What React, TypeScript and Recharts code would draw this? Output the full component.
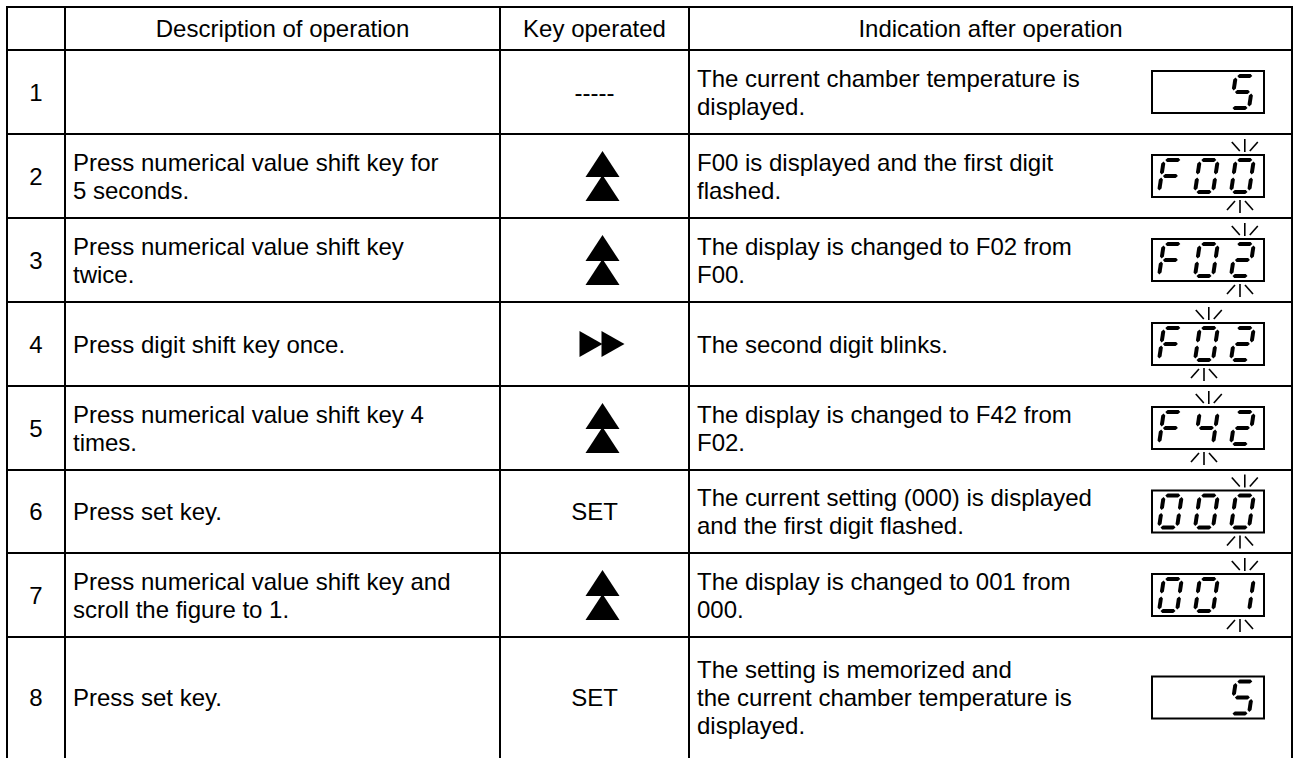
import React from 'react';
import { ComposedChart, XAxis, YAxis, Scatter, ReferenceLine } from 'recharts';

// ---------- content ----------
const headers = ['', 'Description of operation', 'Key operated', 'Indication after operation'];
const stepNumbers = ['1', '2', '3', '4', '5', '6', '7', '8'];
const descriptions: string[][] = [
  [],
  ['Press numerical value shift key for', '5 seconds.'],
  ['Press numerical value shift key', 'twice.'],
  ['Press digit shift key once.'],
  ['Press numerical value shift key 4', 'times.'],
  ['Press set key.'],
  ['Press numerical value shift key and', 'scroll the figure to 1.'],
  ['Press set key.'],
];
const keysOperated = ['-----', 'UP', 'UP', 'RIGHT', 'UP', 'SET', 'UP', 'SET'];
const indications: string[][] = [
  ['The current chamber temperature is', 'displayed.'],
  ['F00 is displayed and the first digit', 'flashed.'],
  ['The display is changed to F02 from', 'F00.'],
  ['The second digit blinks.'],
  ['The display is changed to F42 from', 'F02.'],
  ['The current setting (000) is displayed', 'and the first digit flashed.'],
  ['The display is changed to 001 from', '000.'],
  ['The setting is memorized and', 'the current chamber temperature is', 'displayed.'],
];
const displayReadings = ['  5', 'F00', 'F02', 'F02', 'F42', '000', '001', '  5'];
const blinkingDigit = [-1, 2, 2, 1, 1, 2, 2, -1];

// ---------- layout ----------
const CHART_W = 1294;
const CHART_H = 758;
const colEdges = [7, 65, 500, 689, 1292];
const rowEdges = [7, 50, 134, 218, 302, 386, 470, 553, 637, 758];
const CELL_PAD = 8;
const KEY_ICON_SHIFT = 8;
const DISPLAY_CENTER_X = 1208;
const LINE_GAP = 28;
const FONT = "'Liberation Sans', Arial, Helvetica, sans-serif";
const FONT_SIZE = 24;

const colMid = (i: number) => (colEdges[i] + colEdges[i + 1]) / 2;
const rowMid = (r: number) => (rowEdges[r] + rowEdges[r + 1]) / 2;

const headerCells = headers.map((t, i) => ({ x: colMid(i), y: rowMid(0), lines: [t], anchor: 'middle' }));
const numberCells = stepNumbers.map((t, r) => ({ x: colMid(0), y: rowMid(r + 1), lines: [t], anchor: 'middle' }));
const descCells = descriptions.map((l, r) => ({ x: colEdges[1] + CELL_PAD, y: rowMid(r + 1), lines: l, anchor: 'start' }));
const indCells = indications.map((l, r) => ({ x: colEdges[3] + CELL_PAD, y: rowMid(r + 1), lines: l, anchor: 'start' }));
const keyCells = keysOperated.map((k, r) => ({
  x: colMid(2) + (k === 'UP' || k === 'RIGHT' ? KEY_ICON_SHIFT : 0),
  y: rowMid(r + 1),
  key: k,
}));
const displayCells = displayReadings.map((d, r) => ({ x: DISPLAY_CENTER_X, y: rowMid(r + 1), reading: d, blink: blinkingDigit[r] }));

// ---------- renderers ----------
const TextShape = (p: any) => {
  const { cx, cy, payload } = p;
  const lines: string[] = payload.lines;
  const n = lines.length;
  return (
    <g>
      {lines.map((t, i) => (
        <text
          key={i}
          x={cx}
          y={cy + (i - (n - 1) / 2) * LINE_GAP}
          textAnchor={payload.anchor}
          dominantBaseline="central"
          fontFamily={FONT}
          fontSize={FONT_SIZE}
          fill="#000"
        >
          {t}
        </text>
      ))}
    </g>
  );
};

const KeyShape = (p: any) => {
  const { cx, cy, payload } = p;
  const k = payload.key;
  if (k === 'UP') {
    const w = 17;
    return (
      <g fill="#000">
        <polygon points={`${cx},${cy - 25} ${cx + w},${cy + 1} ${cx - w},${cy + 1}`} />
        <polygon points={`${cx},${cy - 1} ${cx + w},${cy + 25} ${cx - w},${cy + 25}`} />
      </g>
    );
  }
  if (k === 'RIGHT') {
    const h = 13;
    return (
      <g fill="#000">
        <polygon points={`${cx - 23},${cy - h} ${cx},${cy} ${cx - 23},${cy + h}`} />
        <polygon points={`${cx - 1},${cy - h} ${cx + 22},${cy} ${cx - 1},${cy + h}`} />
      </g>
    );
  }
  return (
    <text x={cx} y={cy} textAnchor="middle" dominantBaseline="central" fontFamily={FONT} fontSize={FONT_SIZE} fill="#000">
      {k}
    </text>
  );
};

const SEG_MAP: Record<string, string> = {
  '0': 'abcdef',
  '1': 'bc',
  '2': 'abged',
  '4': 'fgbc',
  '5': 'afgcd',
  F: 'aefg',
  ' ': '',
};

const DW = 18;
const DH = 32;
const SKEW = 0.15;
const T = 4;
const SLOT0 = 7;
const SLOT_PITCH = 36;

function segPoly(x0: number, yb: number, u1: number, v1: number, u2: number, v2: number) {
  const P = (u: number, v: number) => `${(x0 + u + SKEW * v).toFixed(2)},${(yb - v).toFixed(2)}`;
  const h = T / 2;
  if (v1 === v2) {
    return [P(u1, v1), P(u1 + h, v1 + h), P(u2 - h, v1 + h), P(u2, v1), P(u2 - h, v1 - h), P(u1 + h, v1 - h)].join(' ');
  }
  return [P(u1, v1), P(u1 + h, v1 - h), P(u1 + h, v2 + h), P(u1, v2), P(u1 - h, v2 + h), P(u1 - h, v1 - h)].join(' ');
}

function digitSegments(ch: string, x0: number, yb: number) {
  const g = 1.5;
  const m = DH / 2;
  const defs: Record<string, [number, number, number, number]> = {
    a: [g, DH, DW - g, DH],
    b: [DW, DH - g, DW, m + g],
    c: [DW, m - g, DW, g],
    d: [g, 0, DW - g, 0],
    e: [0, m - g, 0, g],
    f: [0, DH - g, 0, m + g],
    g: [g, m, DW - g, m],
  };
  return (SEG_MAP[ch] || '').split('').map((s) => {
    const [u1, v1, u2, v2] = defs[s];
    return <polygon key={s} points={segPoly(x0, yb, u1, v1, u2, v2)} fill="#000" />;
  });
}

const DisplayShape = (p: any) => {
  const { cx, cy, payload } = p;
  const bw = 112;
  const bh = 42;
  const left = cx - bw / 2;
  const top = cy - bh / 2;
  const bottom = cy + bh / 2;
  const chars: string[] = payload.reading.split('');
  const marks: React.ReactNode[] = [];
  if (payload.blink >= 0) {
    const x0 = left + SLOT0 + payload.blink * SLOT_PITCH;
    const mt = x0 + DW / 2 + SKEW * DH;
    const mb = x0 + DW / 2;
    marks.push(
      <g key="blink" stroke="#000" strokeWidth={1.6}>
        <line x1={mt} y1={top - 16} x2={mt} y2={top - 3} />
        <line x1={mt - 13} y1={top - 13} x2={mt - 5} y2={top - 4} />
        <line x1={mt + 13} y1={top - 13} x2={mt + 5} y2={top - 4} />
        <line x1={mb} y1={bottom + 3} x2={mb} y2={bottom + 16} />
        <line x1={mb - 5} y1={bottom + 4} x2={mb - 13} y2={bottom + 13} />
        <line x1={mb + 5} y1={bottom + 4} x2={mb + 13} y2={bottom + 13} />
      </g>
    );
  }
  return (
    <g>
      <rect x={left} y={top} width={bw} height={bh} fill="#fff" stroke="#000" strokeWidth={2} />
      {chars.map((c, i) => (
        <g key={i}>{digitSegments(c, left + SLOT0 + i * SLOT_PITCH, cy + DH / 2)}</g>
      ))}
      {marks}
    </g>
  );
};

// ---------- grid ----------
const hLines = rowEdges.slice(0, rowEdges.length - 1).map((y) => ({ y }));
const vLines = colEdges.map((x) => ({ x }));

export default function App() {
  return (
    <div style={{ position: 'absolute', left: 0, top: 0, width: CHART_W, height: CHART_H, background: '#fff' }}>
      <ComposedChart width={CHART_W} height={CHART_H} margin={{ top: 0, right: 0, bottom: 0, left: 0 }}>
        <XAxis type="number" dataKey="x" domain={[0, CHART_W]} hide allowDataOverflow />
        <YAxis type="number" dataKey="y" domain={[0, CHART_H]} reversed hide allowDataOverflow />
        {hLines.map((l, i) => (
          <ReferenceLine
            key={`h${i}`}
            segment={[{ x: colEdges[0] - 1, y: l.y }, { x: colEdges[colEdges.length - 1] + 1, y: l.y }]}
            stroke="#000"
            strokeWidth={2}
            ifOverflow="visible"
          />
        ))}
        {vLines.map((l, i) => (
          <ReferenceLine
            key={`v${i}`}
            segment={[{ x: l.x, y: rowEdges[0] - 1 }, { x: l.x, y: rowEdges[rowEdges.length - 1] }]}
            stroke="#000"
            strokeWidth={2}
            ifOverflow="visible"
          />
        ))}
        <Scatter data={headerCells} shape={TextShape} isAnimationActive={false} />
        <Scatter data={numberCells} shape={TextShape} isAnimationActive={false} />
        <Scatter data={descCells} shape={TextShape} isAnimationActive={false} />
        <Scatter data={indCells} shape={TextShape} isAnimationActive={false} />
        <Scatter data={keyCells} shape={KeyShape} isAnimationActive={false} />
        <Scatter data={displayCells} shape={DisplayShape} isAnimationActive={false} />
      </ComposedChart>
    </div>
  );
}
